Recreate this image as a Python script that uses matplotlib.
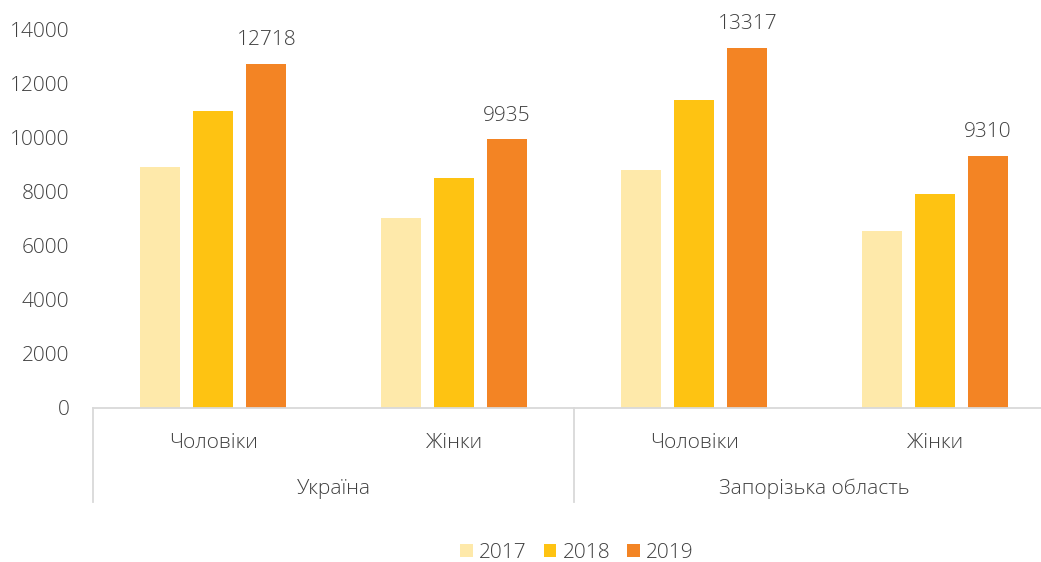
import matplotlib
matplotlib.use("Agg")
import matplotlib.pyplot as plt
import matplotlib.transforms as mtransforms
from matplotlib.patches import Patch
from matplotlib.lines import Line2D
import numpy as np

plt.rcParams['font.family'] = ['Open Sans', 'DejaVu Sans']
plt.rcParams['font.weight'] = 'light'

categories = ["Чоловіки", "Жінки", "Чоловіки", "Жінки"]
groups = ["Україна", "Запорізька область"]
years = ["2017", "2018", "2019"]
v2017 = [8900, 7020, 8810, 6540]
v2018 = [10980, 8500, 11390, 7920]
v2019 = [12718, 9935, 13317, 9310]
yticks = [0, 2000, 4000, 6000, 8000, 10000, 12000, 14000]
colors = ["#FEE9AA", "#FEC312", "#F38424"]

W, H = 1041, 562
FS = 15
TXT = '#404040'
fig = plt.figure(figsize=(W / 100, H / 100), dpi=100)
ax = fig.add_axes([93 / W, (H - 407.7) / H, 962 / W, 378 / H])

x = np.arange(len(categories))
bw = 0.167
off = 0.221
series = [v2017, v2018, v2019]
for i, (vals, c) in enumerate(zip(series, colors)):
    ax.bar(x + (i - 1) * off, vals, width=bw, color=c, edgecolor='none', zorder=2)

for xi, v in zip(x + off, v2019):
    ax.annotate(str(v), (xi, v), xytext=(0, 10), textcoords='offset points',
                ha='center', va='bottom', fontsize=FS, color=TXT)

ax.set_xlim(-0.5, 3.5)
ax.set_ylim(0, 14000)
ax.set_yticks(yticks)
ax.set_yticklabels([str(t) for t in yticks])
ax.tick_params(axis='y', length=0, pad=17, labelsize=FS, labelcolor=TXT)
ax.set_xticks([])
for s in ['top', 'right', 'left']:
    ax.spines[s].set_visible(False)
ax.spines['bottom'].set_color('#d9d9d9')
ax.spines['bottom'].set_linewidth(1.3)

trans = mtransforms.blended_transform_factory(ax.transData, fig.transFigure)
for xi, lab in zip(x, categories):
    ax.text(xi, (H - 443) / H, lab, transform=trans, ha='center', va='center',
            fontsize=FS, color=TXT)
for gi, g in enumerate(groups):
    ax.text(gi * 2 + 0.5, (H - 489) / H, g, transform=trans, ha='center', va='center',
            fontsize=FS, color=TXT)
for xs in [-0.5, 1.5, 3.5]:
    ln = Line2D([xs, xs], [(H - 407.7) / H, (H - 502) / H], transform=trans,
                color='#d9d9d9', linewidth=1.3, clip_on=False)
    ax.add_line(ln)

handles = [Patch(facecolor=c, edgecolor='none', label=y) for c, y in zip(colors, years)]
fig.legend(handles=handles, loc='center', bbox_to_anchor=(577 / W, (H - 552.7) / H),
           ncol=3, frameon=False, fontsize=FS, labelcolor=TXT,
           handlelength=0.62, handleheight=0.62, handletextpad=0.3, columnspacing=0.8)

fig.savefig("out.png", dpi=100)
